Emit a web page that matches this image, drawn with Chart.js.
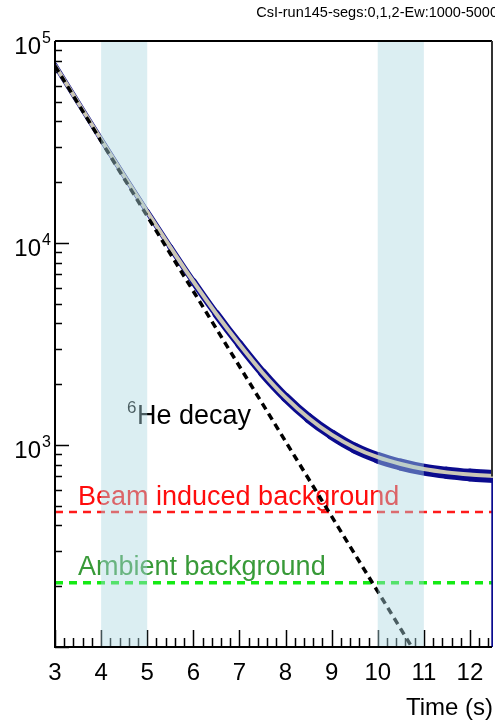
<!DOCTYPE html>
<html>
<head>
<meta charset="utf-8">
<title>CsI run145 - decay curve</title>
<script src="https://cdn.jsdelivr.net/npm/chart.js@4.4.1/dist/chart.umd.min.js"></script>
<style>
    body { margin: 0; background: #fff; }
    #wrap { width: 495px; height: 721px; }
</style>
</head>
<body>
<div id="wrap"><canvas id="chartDecay" width="495" height="721"></canvas></div>
<script>
/* ========== DATA ========== */
const fitTimes   = [3, 3.5, 4, 4.5, 5, 5.5, 6, 6.5, 7, 7.5, 8, 8.5, 9, 9.5, 10, 10.5, 11, 11.5, 12, 12.5];
const fitCounts  = [75900, 49700, 32600, 21500, 14300, 9550, 6450, 4450, 3150, 2280, 1720, 1360, 1125, 970, 870, 805, 760, 732, 714, 702];
const dataCounts = [75900, 49700, 32600, 21500, 14300, 9550, 6450, 4450, 3150, 2280, 1720, 1360, 1125, 965, 865, 800, 755, 728, 710, 698];
// apparent thickness of the noisy histogram band, read per bin (px)
const dataSpread = [5, 5, 5, 5, 5.5, 6, 7, 8, 8.5, 9, 9.5, 10, 10.5, 11, 11.5, 12, 12, 12.5, 13, 13];
const edgeTimes  = [12.49, 12.49];
const edgeCounts = [698, 100];
const decayTimes  = [3, 10.74];
const decayCounts = [75200, 100];
const bgTimes   = [3, 12.5];
const beamLevel = 466;
const ambLevel  = 208;
const bands = [[4, 5], [10, 11]];
const xMajorTicks = [3, 4, 5, 6, 7, 8, 9, 10, 11, 12];
const yExponents  = [3, 4, 5];

const FONT = '"Liberation Sans", Arial, sans-serif';

function pts(xs, ys) {
    return xs.map((v, i) => ({ x: v, y: ys[i] }));
}

/* ========== DECORATION (ticks, labels, bands, frame) ========== */
const decor = {
    id: 'decor',
    beforeDatasetsDraw(chart) {
        const { ctx, chartArea: a, scales: { x, y } } = chart;
        ctx.save();

        // in-plot labels
        ctx.textBaseline = 'alphabetic';
        ctx.textAlign = 'left';
        ctx.font = `27px ${FONT}`;
        ctx.fillStyle = '#ff0d0d';
        ctx.fillText('Beam induced background', 78, 505);
        ctx.fillStyle = '#389a38';
        ctx.fillText('Ambient background', 78, 575);
        ctx.fillStyle = '#000';
        ctx.fillText('He decay', 137, 424);
        ctx.font = `17px ${FONT}`;
        ctx.fillText('6', 127, 413);

        // inward ticks
        ctx.strokeStyle = '#000';
        ctx.lineWidth = 1.5;
        ctx.beginPath();
        for (let i = 0; i <= 47; i++) {
            const px = Math.round(x.getPixelForValue(3 + i * 0.2)) + 0.5;
            const len = i % 5 === 0 ? 17 : 9;
            ctx.moveTo(px, a.bottom);
            ctx.lineTo(px, a.bottom - len);
        }
        for (let dec = 2; dec < 5; dec++) {
            for (let m = 1; m <= 9; m++) {
                const py = Math.round(y.getPixelForValue(m * Math.pow(10, dec))) + 0.5;
                ctx.moveTo(a.left, py);
                ctx.lineTo(a.left + (m === 1 ? 14 : 7), py);
            }
        }
        ctx.stroke();
        ctx.restore();
    },
    afterDatasetsDraw(chart) {
        const { ctx, chartArea: a, scales: { x, y } } = chart;
        ctx.save();

        // shaded time windows (drawn over everything inside the frame)
        ctx.fillStyle = 'rgba(172, 216, 226, 0.43)';
        bands.forEach(([t0, t1]) => {
            const x0 = x.getPixelForValue(t0);
            const x1 = x.getPixelForValue(t1);
            ctx.fillRect(x0, a.top, x1 - x0, a.bottom - a.top);
        });

        // frame
        ctx.lineWidth = 2;
        ctx.strokeStyle = '#000';
        ctx.beginPath();
        ctx.moveTo(a.left, a.top);
        ctx.lineTo(a.right - 1, a.top);
        ctx.moveTo(a.left, a.top);
        ctx.lineTo(a.left, a.bottom);
        ctx.lineTo(a.right - 1, a.bottom);
        ctx.stroke();
        ctx.strokeStyle = '#333';
        ctx.beginPath();
        ctx.moveTo(a.right - 1, a.top);
        ctx.lineTo(a.right - 1, y.getPixelForValue(edgeCounts[0]));
        ctx.stroke();

        // tick labels
        ctx.fillStyle = '#000';
        ctx.font = `24px ${FONT}`;
        ctx.textAlign = 'center';
        ctx.textBaseline = 'alphabetic';
        xMajorTicks.forEach(t => ctx.fillText(String(t), x.getPixelForValue(t), 680));
        ctx.textAlign = 'right';
        ctx.fillText('Time (s)', 493, 715);

        yExponents.forEach(e => {
            const py = y.getPixelForValue(Math.pow(10, e));
            ctx.font = `24px ${FONT}`;
            ctx.textAlign = 'right';
            ctx.fillText('10', 41, py + 13);
            ctx.font = `16px ${FONT}`;
            ctx.textAlign = 'left';
            ctx.fillText(String(e), 42, py + 2);
        });

        // run title
        ctx.font = `14.5px ${FONT}`;
        ctx.textAlign = 'right';
        ctx.fillText('CsI-run145-segs:0,1,2-Ew:1000-5000', 498, 17);
        ctx.restore();
    }
};

/* ========== CHART ========== */
const ctx = document.getElementById('chartDecay').getContext('2d');
new Chart(ctx, {
    type: 'line',
    data: {
        datasets: [
            {
                label: '6He decay',
                data: pts(decayTimes, decayCounts),
                borderColor: '#000',
                borderWidth: 3.5,
                borderDash: [7, 5],
                order: 0
            },
            {
                label: 'fit',
                data: pts(fitTimes, fitCounts),
                borderColor: '#cbc7b6',
                borderWidth: 4,
                cubicInterpolationMode: 'monotone',
                order: 1
            },
            {
                label: 'data',
                data: pts(fitTimes, dataCounts),
                borderColor: '#0b0b8e',
                borderJoinStyle: 'round',
                borderCapStyle: 'round',
                cubicInterpolationMode: 'monotone',
                segment: {
                    borderWidth: c => dataSpread[c.p0DataIndex]
                },
                order: 2
            },
            {
                label: 'edge',
                data: pts(edgeTimes, edgeCounts),
                borderColor: '#0b0b8e',
                borderWidth: 2.5,
                order: 2
            },
            {
                label: 'Beam induced background',
                data: pts(bgTimes, [beamLevel, beamLevel]),
                borderColor: '#ff1a1a',
                borderWidth: 2.5,
                borderDash: [8, 6],
                order: 3
            },
            {
                label: 'Ambient background',
                data: pts(bgTimes, [ambLevel, ambLevel]),
                borderColor: '#14ea14',
                borderWidth: 3.5,
                borderDash: [8, 6],
                order: 3
            }
        ]
    },
    options: {
        responsive: false,
        animation: false,
        layout: { padding: { left: 55, right: 2, top: 41, bottom: 74 } },
        elements: { point: { radius: 0 } },
        plugins: {
            legend: { display: false },
            tooltip: { enabled: false }
        },
        scales: {
            x: { type: 'linear', min: 3, max: 12.5, display: false },
            y: { type: 'logarithmic', min: 100, max: 100000, display: false }
        }
    },
    plugins: [decor]
});
</script>
</body>
</html>
